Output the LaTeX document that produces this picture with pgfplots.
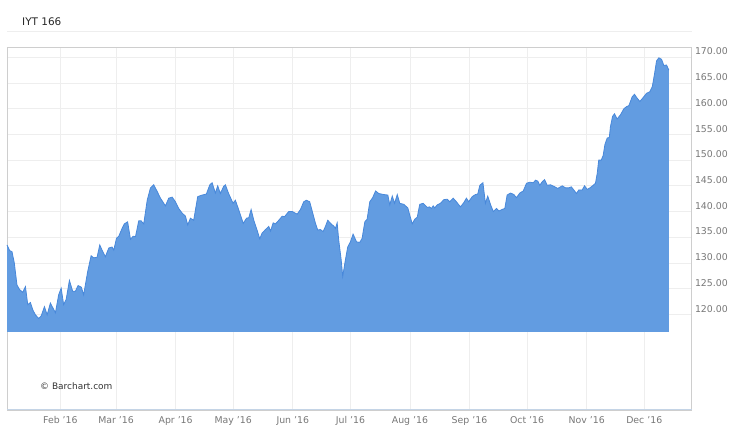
\documentclass[border=0pt]{standalone}
\usepackage{pgfplots}
\pgfplotsset{compat=1.18}
\usepackage{pgfplotstable}
\usepgfplotslibrary{fillbetween}
\usepackage{fontspec}
\setmainfont{DejaVu Sans}
\definecolor{areafill}{RGB}{98,156,225}
\definecolor{arealine}{RGB}{72,136,218}
\definecolor{gridc}{RGB}{238,238,238}
\definecolor{framec}{RGB}{206,206,206}
\definecolor{bottomc}{RGB}{196,212,230}
\definecolor{tickc}{RGB}{119,119,119}

% day of year 2016, closing price
\pgfplotstableread{
day price
4.2 133.5
5.6 132.4
6.8 132.2
8.0 130.0
9.4 125.7
10.8 124.8
12.4 124.3
13.8 125.4
15.0 121.9
16.4 122.3
17.6 120.9
19.0 119.9
20.7 119.2
22.0 119.7
23.7 121.5
25.1 119.9
26.8 122.2
29.4 120.3
31.1 123.8
32.4 125.1
33.7 121.9
35.0 122.9
36.7 126.6
38.4 124.5
39.8 124.5
41.2 125.6
42.9 125.3
44.1 123.8
46.2 128.3
48.0 131.4
49.3 131.0
51.1 131.1
52.5 133.5
53.7 132.5
55.4 131.2
57.2 132.9
58.9 133.1
59.8 132.5
61.2 134.8
62.4 135.2
64.1 136.7
65.3 137.6
67.0 138.0
68.5 134.6
69.9 135.2
71.1 135.1
72.8 138.2
74.0 138.2
75.4 137.6
77.2 142.2
78.9 144.6
80.6 145.2
82.4 143.9
84.1 142.6
86.7 141.1
88.4 142.6
90.2 142.8
91.9 141.9
93.6 140.6
95.4 139.7
97.1 139.1
98.3 137.4
99.7 138.7
101.4 138.3
103.5 142.9
105.8 143.2
108.0 143.4
109.8 145.2
111.0 145.6
112.7 143.6
113.9 145.0
115.3 143.5
117.0 144.9
117.9 145.2
119.6 143.5
121.9 141.6
123.1 142.2
124.9 140.3
127.2 137.7
128.9 138.7
130.1 138.8
131.3 140.4
132.7 138.3
134.4 136.4
135.8 134.7
137.0 135.8
138.8 136.5
140.5 137.1
141.4 136.2
142.8 137.8
144.0 137.6
145.7 138.3
147.5 139.1
148.7 139.0
150.9 140.0
152.7 140.0
155.3 139.5
157.0 140.4
158.7 141.9
160.1 142.2
161.8 141.9
163.1 140.1
164.8 137.7
166.0 136.4
167.4 136.5
168.8 136.1
170.0 137.1
171.2 138.3
173.5 137.4
174.3 137.2
175.2 136.7
176.1 137.8
176.9 134.5
178.2 130.6
179.0 127.4
180.4 130.6
181.6 133.1
183.0 134.1
184.4 135.6
186.2 134.1
187.9 134.0
189.1 134.8
190.5 138.0
191.7 138.5
193.1 141.9
194.6 142.7
196.1 144.0
197.8 143.5
200.4 143.3
202.5 143.2
203.5 141.3
204.8 143.0
206.0 141.6
207.4 143.3
208.7 141.6
210.8 141.4
212.9 140.7
213.9 139.3
215.2 137.6
216.5 138.5
217.8 138.9
219.1 141.4
220.9 141.6
223.0 140.8
224.2 140.9
225.2 140.6
226.1 141.1
226.9 140.7
228.2 141.3
229.9 141.6
231.6 142.3
233.4 142.4
234.7 141.9
236.5 142.6
238.2 141.9
240.3 140.9
242.0 141.7
243.4 142.6
244.6 141.9
246.4 142.9
248.1 143.3
249.3 143.4
250.4 145.1
252.0 145.6
253.3 141.6
254.5 143.0
256.0 141.3
257.4 140.0
259.1 140.6
260.3 140.1
262.0 140.4
263.4 140.6
264.6 143.2
266.4 143.6
268.1 143.3
269.5 142.7
271.2 143.6
273.0 144.0
274.7 145.5
276.4 145.7
278.2 145.6
279.4 146.1
280.6 145.9
281.6 145.1
282.9 145.8
284.1 146.2
285.5 145.1
287.2 145.2
288.9 144.9
291.0 144.5
293.3 145.0
295.0 144.6
296.7 144.6
298.0 144.8
299.3 144.2
300.7 143.5
301.9 144.2
303.7 144.2
304.9 145.0
306.3 144.3
307.7 144.6
309.4 145.1
310.6 145.5
311.5 147.4
312.3 150.0
313.6 150.0
314.6 150.9
315.5 153.0
316.7 154.3
317.8 154.4
318.4 156.5
319.5 158.5
320.5 159.0
321.9 158.0
323.6 158.8
325.4 160.0
326.8 160.4
328.0 160.6
329.7 162.3
330.9 162.8
332.0 162.2
333.7 161.4
335.5 162.2
337.2 163.0
338.9 163.3
340.2 164.3
341.4 166.9
342.4 169.3
343.6 169.9
345.0 169.6
346.2 168.4
347.6 168.5
348.8 167.5
}\pricedata

\begin{document}
\begin{tikzpicture}
\draw[gridc, line width=0.8bp] (7bp,402bp) -- (692bp,402bp);
\node[anchor=west, inner sep=0pt, font=\fontsize{10.5}{12}\selectfont, text=black!85] at (22bp,411bp) {IYT 166};
\begin{axis}[
  at={(7bp,23bp)}, anchor=south west, scale only axis,
  width=684.5bp, height=363bp,
  xmin=4.2, xmax=360.6, ymin=101.4, ymax=172.0,
  axis line style={framec, line width=0.8bp},
  xtick={32,61,92,122,153,183,214,245,275,306,336},
  xticklabels={Feb '16,Mar '16,Apr '16,May '16,Jun '16,Jul '16,Aug '16,Sep '16,Oct '16,Nov '16,Dec '16},
  ytick={120,125,...,170},
  yticklabel pos=right,
  grid=major, grid style={gridc, line width=0.8bp},
  major tick length=0pt,
  tick label style={font=\fontsize{9.4}{11}\selectfont, text=tickc},
  yticklabel style={/pgf/number format/fixed, /pgf/number format/fixed zerofill, /pgf/number format/precision=2, anchor=west, yshift=5.7bp},
  /pgf/number format/assume math mode=true,
  xticklabel style={yshift=-3bp},
  clip=false,
]
\addplot[name path=price, draw=arealine, line width=0.8bp] table[x=day, y=price] {\pricedata};
\addplot[name path=base, draw=none] coordinates {(4.2,116.6) (348.8,116.6)};
\addplot[areafill, draw=none] fill between[of=price and base];
\draw[bottomc, line width=1bp] (rel axis cs:0,0) -- (rel axis cs:1,0);
\end{axis}
\node[anchor=west, inner sep=0pt, font=\fontsize{9}{11}\selectfont, text=black!80] at (40bp,46.5bp) {© Barchart.com};
\path (0,0) rectangle (750bp,433bp);
\end{tikzpicture}
\end{document}
